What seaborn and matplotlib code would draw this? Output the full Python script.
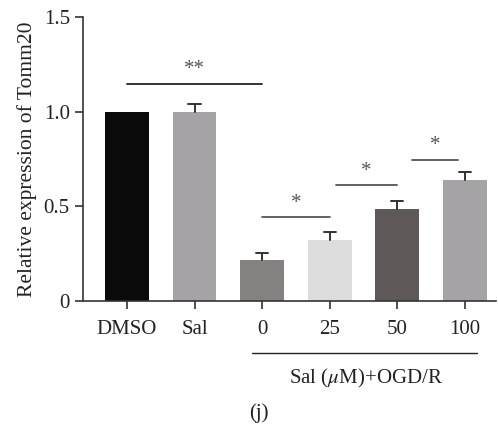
import matplotlib
matplotlib.use("Agg")
import matplotlib.pyplot as plt
import seaborn as sns
import pandas as pd

# data
groups = ["DMSO", "Sal", "0", "25", "50", "100"]
expression = [1.0, 1.0, 0.216, 0.321, 0.484, 0.642]
sem = [0.0, 0.04, 0.04, 0.044, 0.044, 0.041]
bar_colors = ["#0a0a0a", "#a5a3a5", "#858180", "#dcdcdc", "#5e5958", "#a5a3a5"]

# significance brackets: (x start, x end, height, label)
sig_x0 = [0.0, 2.0, 3.09, 4.22]
sig_x1 = [2.0, 3.0, 4.0, 4.9]
sig_y = [1.147, 0.443, 0.612, 0.747]
sig_text = ["**", "*", "*", "*"]
sig_col = ["#222222", "#555555", "#555555", "#555555"]

df = pd.DataFrame({"group": groups, "value": expression})

sns.set_style("ticks")
plt.rcParams["font.family"] = ["Liberation Serif", "DejaVu Serif"]
plt.rcParams["mathtext.fontset"] = "stix"

fig = plt.figure(figsize=(4.98, 4.28), dpi=100)
ax = fig.add_axes([0.1667, 0.2967, 0.829, 0.663])

sns.barplot(data=df, x="group", y="value", hue="group", order=groups,
            palette=bar_colors, width=0.65, legend=False, ax=ax, saturation=1,
            linewidth=0, edgecolor="none")

# upper error bars only
for i, (v, e) in enumerate(zip(expression, sem)):
    if e > 0:
        ax.plot([i, i], [v, v + e], color="#333333", lw=1.4)
        ax.plot([i - 0.09, i + 0.09], [v + e, v + e], color="#333333", lw=1.4)

for x0, x1, y, t, c in zip(sig_x0, sig_x1, sig_y, sig_text, sig_col):
    ax.plot([x0, x1], [y, y], color=c, lw=1.3, clip_on=False)
    ax.text((x0 + x1) / 2, y + 0.075, t, ha="center", va="center",
            fontsize=15, color="#555555")

ax.set_xlim(-0.65, 5.46)
ax.set_ylim(0, 1.5)
ax.set_yticks([0, 0.5, 1.0, 1.5])
ax.set_yticklabels(["0", "0.5", "1.0", "1.5"])
ax.set_xlabel("")
ax.set_ylabel("Relative expression of Tomm20", fontsize=15.5, color="#222222",
              labelpad=5)
ax.tick_params(axis="both", labelsize=15, colors="#333333", width=1.2, length=6,
               labelcolor="#222222")
ax.tick_params(axis="x", pad=8)
for s in ["top", "right"]:
    ax.spines[s].set_visible(False)
for s in ["left", "bottom"]:
    ax.spines[s].set_color("#333333")
    ax.spines[s].set_linewidth(1.2)

# group bracket under the OGD/R bars
fig.add_artist(plt.Line2D([252 / 498, 477 / 498], [1 - 353 / 428, 1 - 353 / 428],
                          color="#222222", lw=1.0))
fig.text(366 / 498, 1 - 378 / 428, "Sal ($\\mu$M)+OGD/R", ha="center", va="center",
         fontsize=15, color="#222222")
fig.text(259 / 498, 1 - 413 / 428, "(j)", ha="center", va="center",
         fontsize=15, color="#222222")

fig.savefig("out.png", dpi=100)
